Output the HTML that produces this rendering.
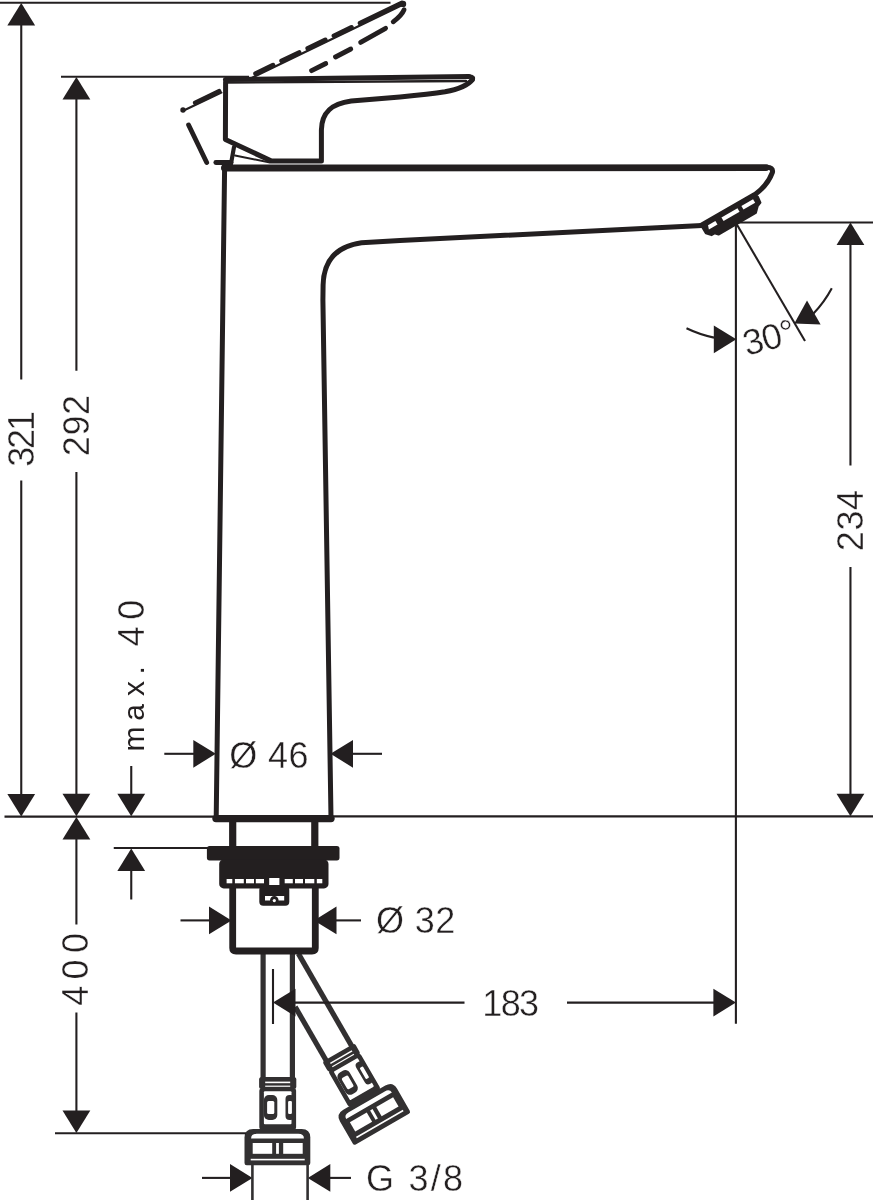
<!DOCTYPE html>
<html lang="en">
<head>
<meta charset="utf-8">
<title>Dimensional drawing</title>
<style>
html,body{margin:0;padding:0;background:#fff;}
body{width:873px;height:1200px;overflow:hidden;}
svg{display:block;}
</style>
</head>
<body>
<svg width="873" height="1200" viewBox="0 0 873 1200" style="will-change:transform">
<rect x="0" y="0" width="873" height="1200" fill="#fff"/>
<g fill="none" stroke="#323031" stroke-width="5.2" stroke-linecap="butt" stroke-linejoin="round">
<line x1="263.10" y1="952.00" x2="263.10" y2="1078.00"/>
<line x1="292.40" y1="952.00" x2="292.40" y2="1078.00"/>
<g transform="translate(277.7 1077)"><rect x="-18.6" y="0" width="37.2" height="12" rx="2.5" fill="#323031" stroke="none"/>
<rect x="-12.5" y="4.6" width="25" height="1.6" fill="#fff" stroke="none"/>
<rect x="-12.5" y="8.6" width="25" height="1.2" fill="#fff" stroke="none"/>
<rect x="-18.4" y="11" width="36.8" height="42" rx="3" fill="#323031" stroke="none"/>
<rect x="-13.8" y="14.2" width="27.6" height="33" rx="1" fill="#fff" stroke="none"/>
<rect x="-13.8" y="18" width="13.4" height="25" rx="5" fill="#323031" stroke="none"/>
<rect x="-10.6" y="24" width="7.2" height="13" rx="1.5" fill="#fff" stroke="none"/>
<rect x="7.8" y="18" width="9" height="25" rx="4" fill="#323031" stroke="none"/>
<rect x="10.4" y="24" width="3.8" height="13" rx="1.2" fill="#fff" stroke="none"/>
<path d="M-33.2,86 V60.5 Q-33.2,52 -24.5,52 H24 Q32.6,52 32.6,60.5 V86 Q32.6,88.2 30.4,88.2 H-31 Q-33.2,88.2 -33.2,86 Z" fill="#323031" stroke="none"/>
<path d="M-26.6,61.4 Q-26.6,56.8 -21,56.8 H20.6 Q26.2,56.8 26.2,61.4 Z" fill="#fff" stroke="none"/>
<rect x="-25" y="66" width="19.5" height="10.8" fill="#fff" stroke="none"/>
<rect x="-1.6" y="66" width="2.8" height="10.8" fill="#fff" stroke="none"/>
<rect x="5.5" y="66" width="19.5" height="10.8" fill="#fff" stroke="none"/>
<rect x="-27" y="81.8" width="54" height="1.6" fill="#fff" stroke="none"/></g>
<g transform="translate(279.9 951) rotate(-30)">
<line x1="-14.7" y1="56" x2="-14.7" y2="118"/>
<line x1="14.7" y1="11.5" x2="14.7" y2="118"/>
<g transform="translate(0 117.2)"><rect x="-18.6" y="0" width="37.2" height="12" rx="2.5" fill="#323031" stroke="none"/>
<rect x="-12.5" y="4.6" width="25" height="1.6" fill="#fff" stroke="none"/>
<rect x="-12.5" y="8.6" width="25" height="1.2" fill="#fff" stroke="none"/>
<rect x="-18.4" y="11" width="36.8" height="42" rx="3" fill="#323031" stroke="none"/>
<rect x="-13.8" y="14.2" width="27.6" height="33" rx="1" fill="#fff" stroke="none"/>
<rect x="-13.8" y="18" width="13.4" height="25" rx="5" fill="#323031" stroke="none"/>
<rect x="-10.6" y="24" width="7.2" height="13" rx="1.5" fill="#fff" stroke="none"/>
<rect x="7.8" y="18" width="9" height="25" rx="4" fill="#323031" stroke="none"/>
<rect x="10.4" y="24" width="3.8" height="13" rx="1.2" fill="#fff" stroke="none"/>
<path d="M-33.2,86 V60.5 Q-33.2,52 -24.5,52 H24 Q32.6,52 32.6,60.5 V86 Q32.6,88.2 30.4,88.2 H-31 Q-33.2,88.2 -33.2,86 Z" fill="#323031" stroke="none"/>
<path d="M-26.6,61.4 Q-26.6,56.8 -21,56.8 H20.6 Q26.2,56.8 26.2,61.4 Z" fill="#fff" stroke="none"/>
<rect x="-25" y="66" width="19.5" height="10.8" fill="#fff" stroke="none"/>
<rect x="-1.6" y="66" width="2.8" height="10.8" fill="#fff" stroke="none"/>
<rect x="5.5" y="66" width="19.5" height="10.8" fill="#fff" stroke="none"/>
<rect x="-27" y="81.8" width="54" height="1.6" fill="#fff" stroke="none"/></g>
</g>
</g>
<g fill="none" stroke="#231f20" stroke-width="2.1" stroke-linecap="butt">
<line x1="0.00" y1="2.75" x2="390.50" y2="2.75"/>
<line x1="21.25" y1="24.00" x2="21.25" y2="379.50"/>
<line x1="21.25" y1="480.50" x2="21.25" y2="795.00"/>
<line x1="61.00" y1="76.75" x2="249.00" y2="76.75"/>
<line x1="76.40" y1="99.00" x2="76.40" y2="370.75"/>
<line x1="76.40" y1="472.00" x2="76.40" y2="795.00"/>
<line x1="4.50" y1="816.60" x2="214.00" y2="816.60"/>
<line x1="333.00" y1="816.40" x2="873.00" y2="816.40"/>
<line x1="76.40" y1="839.00" x2="76.40" y2="924.50"/>
<line x1="76.40" y1="1012.50" x2="76.40" y2="1111.00"/>
<line x1="55.00" y1="1133.25" x2="246.00" y2="1133.25"/>
<line x1="131.25" y1="766.00" x2="131.25" y2="795.00"/>
<line x1="113.75" y1="848.00" x2="208.00" y2="848.00"/>
<line x1="131.25" y1="870.00" x2="131.25" y2="899.50"/>
<line x1="164.30" y1="753.80" x2="194.00" y2="753.80"/>
<line x1="352.00" y1="753.80" x2="382.00" y2="753.80"/>
<line x1="180.50" y1="920.40" x2="210.00" y2="920.40"/>
<line x1="335.00" y1="920.40" x2="361.00" y2="920.40"/>
<line x1="273.00" y1="969.00" x2="273.00" y2="1024.00"/>
<line x1="295.00" y1="1002.60" x2="464.50" y2="1002.60"/>
<line x1="567.00" y1="1002.60" x2="714.00" y2="1002.60"/>
<line x1="735.90" y1="223.00" x2="735.90" y2="1023.75"/>
<line x1="736.00" y1="222.50" x2="873.00" y2="222.50"/>
<line x1="850.45" y1="245.00" x2="850.45" y2="465.50"/>
<line x1="850.45" y1="567.00" x2="850.45" y2="795.00"/>
<line x1="736.30" y1="223.50" x2="805.00" y2="341.00"/>
<line x1="202.00" y1="1177.90" x2="231.00" y2="1177.90"/>
<line x1="328.00" y1="1177.90" x2="351.00" y2="1177.90"/>
<path d="M686.5,328.3 A116,116 0 0 0 714,337.6"/>
<path d="M831.8,288.2 A116,116 0 0 1 813.5,313.5"/>
</g>
<g fill="#231f20" stroke="none">
<polygon points="21.25,3.00 7.35,25.50 35.15,25.50"/>
<polygon points="21.25,816.50 7.35,794.00 35.15,794.00"/>
<polygon points="76.40,77.00 62.50,99.50 90.30,99.50"/>
<polygon points="76.40,816.30 62.50,793.80 90.30,793.80"/>
<polygon points="76.40,817.00 62.50,839.50 90.30,839.50"/>
<polygon points="76.40,1133.00 62.50,1110.50 90.30,1110.50"/>
<polygon points="131.25,816.30 117.35,793.80 145.15,793.80"/>
<polygon points="131.25,848.40 117.35,870.90 145.15,870.90"/>
<polygon points="215.80,753.80 193.30,739.90 193.30,767.70"/>
<polygon points="330.50,753.80 353.00,739.90 353.00,767.70"/>
<polygon points="231.50,920.40 209.00,906.50 209.00,934.30"/>
<polygon points="314.00,920.40 336.50,906.50 336.50,934.30"/>
<polygon points="273.00,1002.60 295.50,988.70 295.50,1016.50"/>
<polygon points="735.90,1002.60 713.40,988.70 713.40,1016.50"/>
<polygon points="850.45,222.60 836.55,245.10 864.35,245.10"/>
<polygon points="850.45,816.20 836.55,793.70 864.35,793.70"/>
<polygon points="252.50,1177.90 230.00,1164.00 230.00,1191.80"/>
<polygon points="307.80,1177.90 330.30,1164.00 330.30,1191.80"/>
<polygon points="736.30,339.30 713.80,325.40 713.80,353.20"/>
<polygon points="794.3,323.6 807,300.6 820.6,324.4"/>
</g>
<g fill="#231f20" font-family="'Liberation Sans', Arial, Helvetica, sans-serif" font-size="36px" text-anchor="middle" stroke="#fff" stroke-width="0.4" stroke-linejoin="round">
<text transform="translate(20.80 438.90) rotate(-90)" x="-1.10" y="12.70" letter-spacing="-2.20" font-size="36px">321</text>
<text transform="translate(76.70 425.50) rotate(-90)" x="0.30" y="12.70" letter-spacing="0.60" font-size="36px">292</text>
<text transform="translate(850.50 520.60) rotate(-90)" x="0.30" y="12.70" letter-spacing="0.60" font-size="36px">234</text>
<text transform="translate(75.50 969.40) rotate(-90)" x="3.20" y="12.70" letter-spacing="6.40" font-size="36px">400</text>
<text transform="translate(144.0 748.5) rotate(-90)" text-anchor="start" y="0"><tspan font-size="30px" x="-3.0 27.8 52.4 74.1" stroke="none">max.</tspan><tspan font-size="36px" x="87.5 102.2 128.8"> 40</tspan></text>
<text x="269.00" y="767.50" letter-spacing="0.40" font-size="36px">Ø 46</text>
<text x="415.90" y="933.20" letter-spacing="0.40" font-size="36px">Ø 32</text>
<text x="509.90" y="1016.20" letter-spacing="-1.60" font-size="36px">183</text>
<text x="415.60" y="1190.70" letter-spacing="2.20" font-size="36px">G 3/8</text>
<text transform="translate(768.6 337.2) rotate(-15)" x="0" y="12.6" letter-spacing="-0.8">30°</text>
</g>
<g fill="none" stroke="#323031" stroke-width="2.6">
<line x1="252.40" y1="1163.00" x2="252.40" y2="1200.00"/>
<line x1="307.60" y1="1163.00" x2="307.60" y2="1200.00"/>
</g>
<g fill="none" stroke="#231f20" stroke-width="4.8" stroke-linecap="round" stroke-linejoin="round">
<path d="M183.2,110.8 L221.4,92.6 M252,77.8 L403.4,4.6" stroke-width="2.2"/>
<line x1="195.30" y1="102.80" x2="219.00" y2="91.30"/>
<line x1="255.60" y1="73.60" x2="273.00" y2="65.20"/>
<line x1="281.70" y1="61.00" x2="299.10" y2="52.60"/>
<line x1="307.80" y1="48.40" x2="325.30" y2="40.00"/>
<line x1="334.00" y1="35.80" x2="351.40" y2="27.40"/>
<line x1="360.10" y1="23.20" x2="401.50" y2="3.10"/>
<circle cx="183" cy="110" r="2.7" fill="#231f20" stroke="none"/>
<circle cx="403" cy="3.9" r="3.2" fill="#231f20" stroke="none"/>
<line x1="311.60" y1="70.70" x2="325.80" y2="63.50"/>
<line x1="335.50" y1="57.00" x2="350.80" y2="49.00"/>
<line x1="360.60" y1="42.40" x2="385.60" y2="28.30"/>
<path d="M393.2,21.8 Q402,15 404,9.8"/>
<line x1="188.60" y1="125.00" x2="206.70" y2="162.50"/>
<line x1="215.80" y1="162.50" x2="231.00" y2="162.50"/>
<path d="M225.6,82 L225.4,139.6 L271.5,161 L321.4,161 L321.4,130 C321.7,112 332,103.6 351.2,101.1 L400,96.9 Q430,94.3 445,91.8 Q466,87.8 472.4,79.6" stroke-width="5"/>
<path d="M225.4,79.6 L469,76.6" stroke-width="5"/>
<path d="M226,82.6 L466,81" stroke-width="2.4"/>
<path d="M469,76.6 Q474.8,76.6 472.4,80" stroke-width="4"/>
<path d="M234,147 L230.8,165" stroke-width="4.2"/>
<path d="M235,155.5 L270,162.5" stroke-width="2"/>
<path d="M224.6,168.4 L216.2,818.2 L331,818.2 L322.9,300 L323.1,285 C323.6,262 335,246.5 361.5,242.7 L400,240.6 L702,225.4" stroke-width="5"/>
<path d="M224.4,168 L766,167.6" stroke-width="6.8"/>
<path d="M766,167.4 Q773.6,167 772.4,172.4 Q768,185 755,194.5" stroke-width="5"/>
<path d="M216,818.6 L331,818.6" stroke-width="7.4"/>
<path d="M232.7,822 V847 M314.8,822 V847" stroke-width="7.2" stroke-linecap="butt"/>
<path d="M232.7,888 V948 Q232.7,951 236,951 H312 Q315.3,951 315.3,948 V888" stroke-width="6.8" stroke-linecap="butt"/>
</g>
<g transform="translate(702.4 225.4) rotate(-30)" stroke="none">
<path d="M-1.2,-2.2 H60 L62.4,3 L61.6,9.4 L57.5,11 L52.5,16 H9.4 L6.5,13 H3 L-1,8.6 Z" fill="#231f20" stroke="#231f20" stroke-width="2" stroke-linejoin="round"/>
<path d="M5,2.6 H13.5 V6.8 H3.6 Z" fill="#fff"/>
<rect x="20.5" y="2.6" width="18.5" height="4.2" fill="#fff"/>
<rect x="43.5" y="2.6" width="13.5" height="4.2" fill="#fff"/>
</g>
<g fill="#231f20" stroke="none">
<rect x="206.9" y="846" width="132.6" height="14.4" rx="2.6"/>
<rect x="219.2" y="859.4" width="109.3" height="29" rx="4.5"/>
<rect x="259.3" y="886" width="30" height="19.8" rx="4"/>
</g>
<g fill="#fff" stroke="none">
<rect x="226.6" y="879" width="5.7" height="4.3"/>
<rect x="234.9" y="879" width="8.9" height="4.3"/>
<rect x="246.0" y="879" width="8.0" height="4.3"/>
<rect x="255.8" y="879" width="8.2" height="4.3"/>
<rect x="284.7" y="879" width="8.1" height="4.3"/>
<rect x="295.0" y="879" width="8.0" height="4.3"/>
<rect x="305.0" y="879" width="9.3" height="4.3"/>
<rect x="316.8" y="879" width="5.5" height="4.3"/>
<rect x="269.2" y="878" width="10.2" height="7"/>
<path d="M265,896 H284.2 V900.4 H278.6 A4.3,4.3 0 0 0 270,900.4 H265 Z"/>
</g>
<circle cx="274.3" cy="900.6" r="1.6" fill="#fff"/>
</svg>
</body>
</html>
